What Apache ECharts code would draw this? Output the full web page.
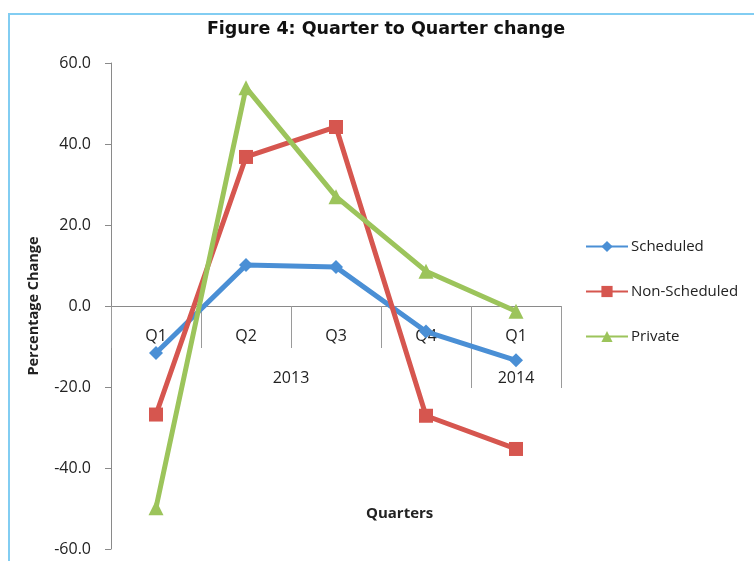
<!DOCTYPE html>
<html>
<head>
<meta charset="utf-8">
<title>Figure 4</title>
<script src="https://cdn.jsdelivr.net/npm/echarts@6/dist/echarts.min.js"></script>
<style>
  html, body { margin: 0; padding: 0; background: #fff; }
  #main { width: 754px; height: 561px; }
</style>
</head>
<body>
<div id="main"></div>
<script>
// data
var quarters = ['Q1', 'Q2', 'Q3', 'Q4', 'Q1'];
var years = ['2013', '2014'];
var scheduled = [-11.6, 10.1, 9.6, -6.3, -13.4];
var nonScheduled = [-26.8, 36.8, 44.2, -27.1, -35.3];
var privateFlights = [-49.8, 53.9, 27.0, 8.6, -1.3];

var font = '"Open Sans", "Liberation Sans", sans-serif';
var axisGrey = '#8a8a8a';

var myChart = echarts.init(document.getElementById('main'));

function lineSeries(name, data, color, symbol) {
  return {
    name: name,
    type: 'line',
    xAxisIndex: 0,
    yAxisIndex: 0,
    data: data,
    symbol: symbol,
    symbolSize: symbol === 'triangle' ? 15 : 14,
    lineStyle: { width: 5, color: color },
    itemStyle: { color: color },
    z: 3
  };
}

var option = {
  backgroundColor: '#fff',
  animation: false,
  title: {
    text: 'Figure 4: Quarter to Quarter change',
    left: 381,
    textAlign: 'center',
    top: 15,
    textStyle: { fontFamily: '"DejaVu Sans", sans-serif', fontWeight: 'bold', fontSize: 17.5, color: '#111' }
  },
  graphic: [
    // light blue frame of the original picture
    {
      type: 'rect',
      shape: { x: 9, y: 14, width: 900, height: 700 },
      style: { fill: 'none', stroke: '#82cdf2', lineWidth: 2 },
      silent: true
    },
    {
      type: 'text',
      left: 366,
      top: 506,
      style: { text: 'Quarters', fontFamily: font, fontWeight: 'bold', fontSize: 15, fill: '#222', textAlign: 'center' }
    }
  ],
  legend: {
    orient: 'vertical',
    left: 580,
    top: 234,
    itemWidth: 42,
    itemHeight: 14,
    itemGap: 30,
    textStyle: { fontFamily: font, fontSize: 15, color: '#222', padding: [0, 0, 0, -2] },
    data: ['Scheduled', 'Non-Scheduled', 'Private']
  },
  grid: [
    // plot area
    { left: 111, right: 193, top: 63, bottom: 12, outerBoundsMode: 'none' },
    // upper half only, so its bottom edge is the zero line and carries the category axis
    { left: 111, right: 193, top: 63, bottom: 255, outerBoundsMode: 'none' }
  ],
  xAxis: [
    {
      type: 'category',
      gridIndex: 0,
      data: quarters,
      boundaryGap: true,
      show: false
    },
    {
      type: 'category',
      gridIndex: 1,
      position: 'bottom',
      data: quarters,
      boundaryGap: true,
      axisLine: { onZero: false, lineStyle: { color: axisGrey, width: 1 } },
      axisTick: { show: true, interval: 0, length: 42, lineStyle: { color: '#9a9a9a' } },
      axisLabel: { interval: 0, margin: 22, fontFamily: font, fontSize: 16, color: '#222' },
      splitLine: { show: false }
    },
    {
      type: 'value',
      gridIndex: 1,
      position: 'bottom',
      offset: 0,
      min: 0,
      max: 5,
      axisLine: { show: false, onZero: false },
      axisTick: { show: true, customValues: [4, 5], length: 82, lineStyle: { color: '#9a9a9a' } },
      axisLabel: {
        customValues: [2, 4.5],
        margin: 64,
        fontFamily: font,
        fontSize: 16,
        color: '#222',
        formatter: function (v) { return v < 4 ? years[0] : years[1]; }
      },
      splitLine: { show: false }
    }
  ],
  yAxis: [
    {
      type: 'value',
      gridIndex: 0,
      min: -60,
      max: 60,
      interval: 20,
      name: 'Percentage Change',
      nameLocation: 'middle',
      nameGap: 70,
      nameRotate: 90,
      nameTextStyle: { fontFamily: font, fontWeight: 'bold', fontSize: 14.5, color: '#222' },
      axisLine: { show: true, lineStyle: { color: axisGrey, width: 1 } },
      axisTick: { show: true, length: 6, lineStyle: { color: axisGrey } },
      axisLabel: {
        margin: 20,
        fontFamily: font,
        fontSize: 16,
        color: '#222',
        formatter: function (v) { return v.toFixed(1); }
      },
      splitLine: { show: false }
    },
    {
      type: 'value',
      gridIndex: 1,
      min: 0,
      max: 60,
      show: false
    }
  ],
  series: [
    lineSeries('Scheduled', scheduled, '#4a8fd5', 'diamond'),
    lineSeries('Non-Scheduled', nonScheduled, '#d6564f', 'rect'),
    lineSeries('Private', privateFlights, '#9cc45b', 'triangle')
  ]
};

myChart.setOption(option);
</script>
</body>
</html>
